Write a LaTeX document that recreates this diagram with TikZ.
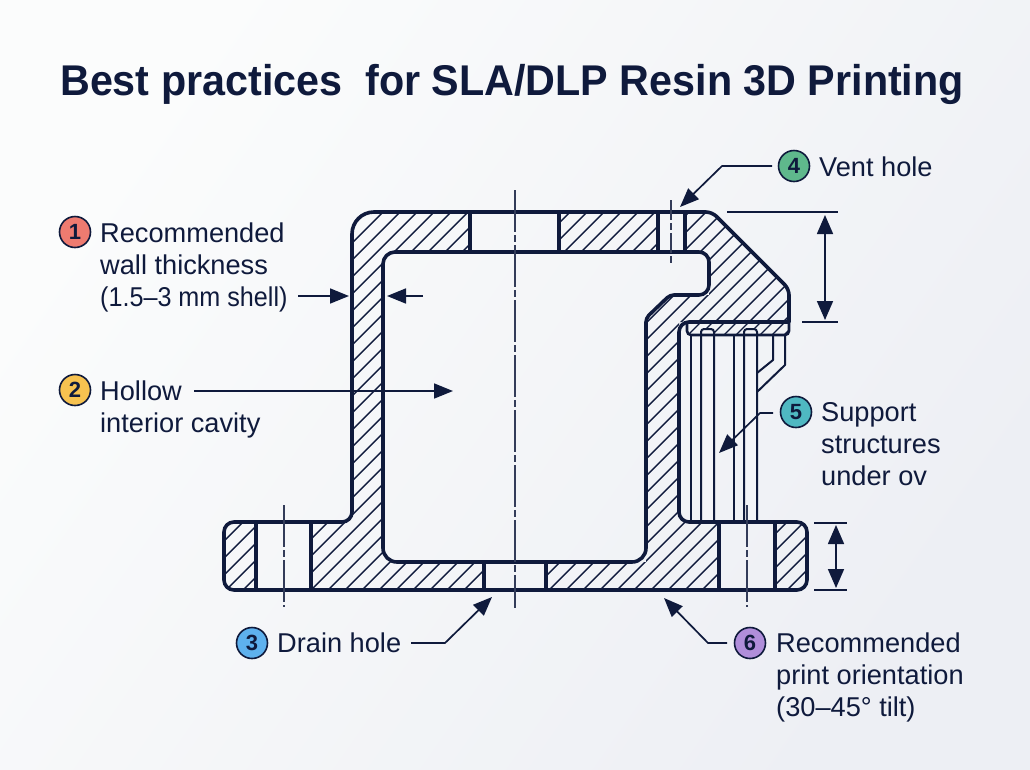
\documentclass[tikz,border=0pt]{standalone}
\usepackage{fontspec}
\setmainfont{Liberation Sans}
\newfontfamily\titlefont[FakeStretch=0.96]{Liberation Sans}
\usetikzlibrary{arrows.meta}
\definecolor{navy}{HTML}{0F1A3C}
\definecolor{bgmid}{HTML}{F3F4F8}
\definecolor{bgtl}{HTML}{FBFCFC}
\definecolor{bgbr}{HTML}{EDEFF4}
\definecolor{cred}{HTML}{EE7B70}
\definecolor{cyel}{HTML}{F7C250}
\definecolor{cblu}{HTML}{5EB1EE}
\definecolor{cgrn}{HTML}{5FB88C}
\definecolor{ctea}{HTML}{4FB8C2}
\definecolor{cpur}{HTML}{B08EDA}
\tikzset{
  x=1pt,y=-1pt,
  outline/.style={draw=navy,line width=3.6pt,line join=round},
  holeline/.style={draw=navy,line width=3.4pt},
  hatchline/.style={draw=navy,line width=1.4pt},
  supportline/.style={draw=navy,line width=2pt,line join=round},
  centerline/.style={draw=navy!85!white,line width=1.3pt,dash pattern=on 42pt off 3pt on 7pt off 3pt},
  extline/.style={draw=navy,line width=1.6pt},
  leader/.style={draw=navy,line width=1.7pt,line join=round,-{Triangle[length=19pt,width=15pt]}},
  dimarrow/.style={draw=navy,line width=1.7pt,{Triangle[length=19pt,width=16pt]}-{Triangle[length=19pt,width=16pt]}},
  badge/.style={circle,draw=navy,line width=1.6pt,minimum size=31pt,inner sep=0pt,text=navy,font=\fontsize{22}{22}\selectfont\bfseries},
  lbl/.style={anchor=north west,inner sep=0pt,align=left,text=navy,font=\fontsize{27.2}{32}\selectfont},
}
\newcommand{\hatchfill}[3]{\begin{scope}\clip #1;\foreach \s in #2{\draw[hatchline,line width=#3] ({\s-650},650) -- ({\s-150},150);}\end{scope}}
\begin{document}
\begin{tikzpicture}
\path[shade,shading=axis,left color=bgtl,right color=bgbr,shading angle=55] (0,0) rectangle (1030,769);
\useasboundingbox (0,0) rectangle (1030,769);

\node[anchor=base west,inner sep=0pt,text=navy,font=\titlefont\fontsize{43}{50}\selectfont\bfseries] (title) at (60,95) {Best practices\ \ for SLA/DLP Resin 3D Printing};

% hatching
\hatchfill{[rounded corners=12pt] (256,522) -- (224,522) -- (224,590) -- (256,590) [sharp corners] -- cycle}{{561,578,...,1411}}{1.4pt}
\hatchfill{(311,590) -- (311,522) -- (352,522) [rounded corners=20pt] -- (352,212) [sharp corners] -- (470,212) -- (470,252) -- (383,252) -- (383,562) -- (484,562) -- (484,590) -- cycle}{{561,578,...,1411}}{1.4pt}
\hatchfill{(559,212) rectangle (658,252)}{{561,578,...,1411}}{1.4pt}
\hatchfill{(546,590) -- (546,562) -- (646,562) -- (646,318) -- (670,295) -- (709,295) -- (709,252) -- (685,252) -- (685,212) -- (712,212) -- (789,289) -- (789,322) -- (679,322) -- (679,522) -- (719,522) -- (719,590) -- cycle}{{561,578,...,1411}}{1.4pt}
\hatchfill{[rounded corners=12pt] (775,522) -- (807,522) -- (807,590) -- (775,590) [sharp corners] -- cycle}{{561,578,...,1411}}{1.4pt}
\hatchfill{[rounded corners=4pt] (687,322) -- (789,322) -- (789,335) -- (687,335) -- cycle}{{1011,1023,...,1131}}{1.3pt}

% supports
\draw[supportline,fill=bgmid,rounded corners=3pt] (701,522) -- (701,329) -- (714,329) -- (714,522);
\draw[supportline,fill=bgmid,rounded corners=3pt] (744,522) -- (744,329) -- (757,329) -- (757,522);
\draw[supportline] (691,335) -- (691,522);
\draw[supportline] (734,335) -- (734,522);
\draw[supportline] (757,373) -- (773,360) -- (773,335);
\draw[supportline] (757,392) -- (785,365) -- (785,335);
\draw[draw=navy,line width=2.6pt,rounded corners=4pt] (687,322) -- (687,335) -- (789,335) -- (789,322);

% body outline
\draw[outline] (470,212) [rounded corners=6pt] -- (712,212) -- (789,289) [sharp corners] -- (789,322) [rounded corners=10pt] -- (679,322) -- (679,522) -- (807,522) -- (807,590) -- (224,590) -- (224,522) -- (352,522) [rounded corners=22pt] -- (352,212) [sharp corners] -- cycle;
\draw[outline] (400,252) [rounded corners=10pt] -- (709,252) -- (709,295) [rounded corners=4pt] -- (670,295) -- (646,318) [rounded corners=14pt] -- (646,562) -- (383,562) [rounded corners=12pt] -- (383,252) [sharp corners] -- cycle;

% holes
\draw[holeline] (470,212) -- (470,252);
\draw[holeline] (559,212) -- (559,252);
\draw[holeline] (658,212) -- (658,252);
\draw[holeline] (685,212) -- (685,252);
\draw[holeline] (484,562) -- (484,590);
\draw[holeline] (546,562) -- (546,590);
\draw[holeline] (256,522) -- (256,590);
\draw[holeline] (311,522) -- (311,590);
\draw[holeline] (719,522) -- (719,590);
\draw[holeline] (775,522) -- (775,590);

% centre lines
\draw[centerline] (515,190) -- (515,608);
\draw[centerline] (284,505) -- (284,607);
\draw[centerline] (747,505) -- (747,607);
\draw[centerline,dash pattern=on 20pt off 3pt on 7pt off 3pt] (671,200) -- (671,265);

% badges
\node[badge,fill=cred] (c1) at (75,232) {1};
\node[badge,fill=cyel] (c2) at (75,390) {2};
\node[badge,fill=cblu] (c3) at (252,643) {3};
\node[badge,fill=cgrn] (c4) at (794,166) {4};
\node[badge,fill=ctea] (c5) at (796,412) {5};
\node[badge,fill=cpur] (c6) at (750,643) {6};

% labels
\node[lbl] (l1) at (100,222.5) {Recommended\\wall thickness\\\scalebox{0.925}[1]{(1.5–3 mm shell)}};
\node[lbl] (l2) at (100,380.5) {Hollow\\interior cavity};
\node[lbl] (l3) at (277,632.5) {Drain hole};
\node[lbl] (l4) at (819,156.5) {Vent hole};
\node[lbl] (l5) at (821,402.5) {Support\\structures\\under ov};
\node[lbl] (l6) at (776,632.5) {Recommended\\print orientation\\(30–45° tilt)};

% leaders
\coordinate (a1s) at (298,296); \coordinate (a1e) at (349,296);
\coordinate (a1bs) at (423,296); \coordinate (a1be) at (387,296);
\coordinate (a2s) at (194,391); \coordinate (a2e) at (453,391);
\coordinate (a3s) at (411,643); \coordinate (a3m) at (445,643); \coordinate (a3e) at (492,597);
\coordinate (a4s) at (772,166); \coordinate (a4m) at (722,166); \coordinate (a4e) at (680,207);
\coordinate (a5s) at (773,413); \coordinate (a5m) at (760,413); \coordinate (a5e) at (719,453);
\coordinate (a6s) at (727,643); \coordinate (a6m) at (708,643); \coordinate (a6e) at (664,598);
\draw[leader] (a1s) -- (a1e);
\draw[leader] (a1bs) -- (a1be);
\draw[leader] (a2s) -- (a2e);
\draw[leader] (a3s) -- (a3m) -- (a3e);
\draw[leader] (a4s) -- (a4m) -- (a4e);
\draw[leader] (a5s) -- (a5m) -- (a5e);
\draw[leader] (a6s) -- (a6m) -- (a6e);

% dimensions
\draw[extline] (727,212) -- (838,212);
\draw[extline] (802,322) -- (838,322);
\coordinate (d1a) at (825,215); \coordinate (d1b) at (825,320);
\draw[dimarrow] (d1a) -- (d1b);
\draw[extline] (814,523) -- (847,523);
\draw[extline] (814,590) -- (847,590);
\coordinate (d2a) at (836,525); \coordinate (d2b) at (836,588);
\draw[dimarrow] (d2a) -- (d2b);
\end{tikzpicture}
\end{document}
